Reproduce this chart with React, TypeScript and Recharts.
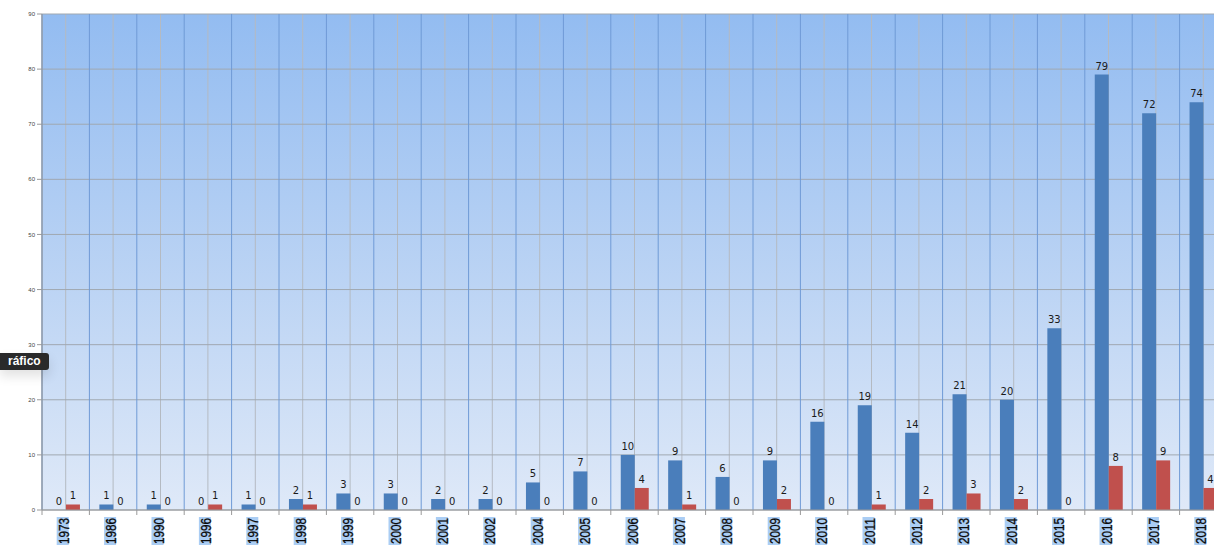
import React from 'react';
import {
  Bar,
  BarChart,
  CartesianGrid,
  LabelList,
  ReferenceLine,
  XAxis,
  YAxis,
} from 'recharts';

const years = [
  '1973', '1986', '1990', '1996', '1997', '1998', '1999', '2000', '2001', '2002',
  '2004', '2005', '2006', '2007', '2008', '2009', '2010', '2011', '2012', '2013',
  '2014', '2015', '2016', '2017', '2018',
];
const blueValues = [0, 1, 1, 0, 1, 2, 3, 3, 2, 2, 5, 7, 10, 9, 6, 9, 16, 19, 14, 21, 20, 33, 79, 72, 74];
const redValues = [1, 0, 0, 1, 0, 1, 0, 0, 0, 0, 0, 0, 4, 1, 0, 2, 0, 1, 2, 3, 2, 0, 8, 9, 4];
const yTicks = [0, 10, 20, 30, 40, 50, 60, 70, 80, 90];

const data = years.map((year, i) => ({ year, blue: blueValues[i], red: redValues[i] }));

const CHART_W = 1235;
const CHART_H = 546;
const PLOT_LEFT = 42;
const PLOT_RIGHT = 1227;
const HALF_BAND = (PLOT_RIGHT - PLOT_LEFT) / years.length / 2;

// keep zero bars in the layout so their "0" label still gets drawn
const zeroMin = (value: any) => (value === 0 ? 0.001 : 0);

const YearTick = (props: any) => {
  const { x, y, payload } = props;
  return (
    <g>
      <line x1={x - HALF_BAND} x2={x - HALF_BAND} y1={y - 8} y2={y - 3} stroke="#9a9a9a" />
      <g transform={`translate(${x - 3}, ${y + 13}) rotate(-90)`}>
        <rect x={-14} y={-6} width={28} height={12} fill="#aacdf4" />
        <text
          x={-13}
          y={0.5}
          textLength={26}
          lengthAdjust="spacingAndGlyphs"
          dominantBaseline="central"
          fontSize={15}
          fontFamily="'Liberation Sans', Arial, sans-serif"
          fill="#0a0a0a"
          stroke="#0a0a0a"
          strokeWidth={0.3}
        >
          {payload.value}
        </text>
      </g>
    </g>
  );
};

const labelStyle = { fontSize: 10, fill: '#1a1a1a', fontFamily: "'DejaVu Sans', Verdana, sans-serif" };

const App: React.FC = () => {
  return (
    <div
      style={{
        position: 'fixed',
        left: 0,
        top: 0,
        width: 1214,
        height: 546,
        overflow: 'hidden',
        background: '#fff',
        fontFamily: "'Liberation Sans', Arial, sans-serif",
      }}
    >
      <BarChart
        width={CHART_W}
        height={CHART_H}
        data={data}
        margin={{ top: 14, right: CHART_W - PLOT_RIGHT, left: 0, bottom: 0 }}
        barCategoryGap="21%"
        barGap={0}
      >
        <defs>
          <linearGradient id="bgGrad" x1="0" y1="0" x2="0" y2="1">
            <stop offset="0%" stopColor="#93bcf1" />
            <stop offset="55%" stopColor="#bcd4f4" />
            <stop offset="100%" stopColor="#dfe9f8" />
          </linearGradient>
        </defs>
        <CartesianGrid fill="url(#bgGrad)" horizontal={false} stroke="#b4bac2" strokeWidth={1} />
        <CartesianGrid vertical={false} stroke="#a0a8b1" strokeWidth={1} />
        {years.map((yr) => (
          <ReferenceLine key={yr} x={yr} position="start" stroke="#6f9ad6" strokeWidth={1} />
        ))}
        <XAxis
          dataKey="year"
          height={36}
          axisLine={{ stroke: '#9a9a9a' }}
          tickLine={false}
          interval={0}
          tick={<YearTick />}
        />
        <YAxis
          width={PLOT_LEFT}
          domain={[0, 90]}
          ticks={yTicks}
          interval={0}
          axisLine={{ stroke: '#9a9a9a' }}
          tickLine={{ stroke: '#9a9a9a' }}
          tickSize={5}
          tick={{ fontSize: 6, fill: '#444' }}
        />
        <Bar dataKey="blue" fill="#4a7ebb" minPointSize={zeroMin} isAnimationActive={false}>
          <LabelList dataKey="blue" position="top" offset={5} {...labelStyle} />
        </Bar>
        <Bar dataKey="red" fill="#c0504d" minPointSize={zeroMin} isAnimationActive={false}>
          <LabelList dataKey="red" position="top" offset={5} {...labelStyle} />
        </Bar>
      </BarChart>
      <div
        style={{
          position: 'absolute',
          left: 0,
          top: 353,
          width: 49,
          height: 17,
          background: '#2a2a2a',
          borderRadius: '0 3px 3px 0',
          color: '#fff',
          fontSize: 12,
          fontWeight: 700,
          lineHeight: '17px',
          paddingLeft: 8,
          boxSizing: 'border-box',
          boxShadow: '0 6px 12px rgba(0,0,0,0.12)',
        }}
      >
        ráfico
      </div>
    </div>
  );
};

export default App;
